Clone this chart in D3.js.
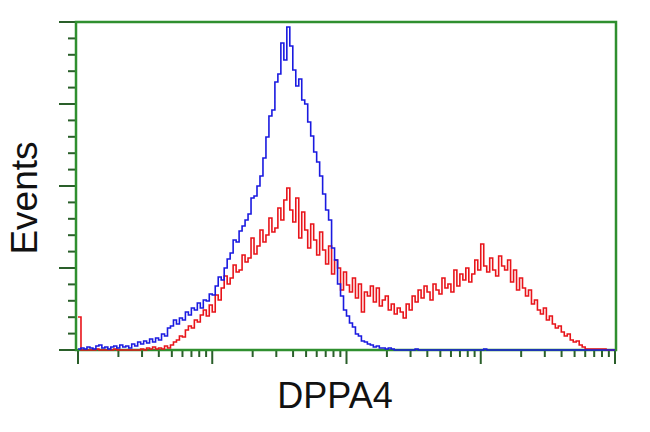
<!DOCTYPE html>
<html><head><meta charset="utf-8">
<script src="https://cdn.jsdelivr.net/npm/d3@7"></script>
<style>html,body{margin:0;padding:0;background:#fff;}svg{display:block;}</style>
</head><body>
<script>
// ---- data ----
const xLabel = "DPPA4";
const yLabel = "Events";
const xDecades = [1, 10, 100, 1000, 10000];
const yMajorTicks = [0, 100, 200, 300, 400];
const binCount = 180;
// bin heights (pixel units, converted to the 0..400 count scale)
const blueCounts = [
1,2,1,3,2,1,4,5,2,3, 1,3,4,2,5,3,4,2,6,4,
8,6,9,7,11,8,12,10,16,14, 22,24,30,26,32,30,38,35,42,40,
47,42,50,49,56,55,64,73,70,82, 91,97,110,108,119,124,130,136,152,154,
164,174,192,213,234,240,268,276,307,290, 323,304,280,264,271,250,246,228,214,198,
188,174,156,140,130,102,90,66,54,40, 34,27,23,16,14,9,8,6,5,3,
4,2,2,1,2,1,0,0,0,0, 0,0,0,1,0,0,0,0,0,0,
0,0,0,0,0,0,0,0,0,0, 0,0,0,0,0,0,1,0,0,0,
0,0,0,0,0,0,0,0,0,0, 0,0,0,0,0,0,0,0,0,0,
0,0,0,0,0,0,0,0,0,0, 0,0,0,0,0,0,0,0,0,0
];
const redCounts = [
33,0,0,0,0,0,1,0,0,0, 0,0,1,0,0,0,0,0,0,0,
0,1,0,2,1,3,1,2,1,4, 2,5,8,10,14,13,20,24,22,30,
28,35,40,34,45,38,55,50,62,74, 66,72,85,78,80,95,88,92,112,96,
104,120,108,115,132,118,122,142,130,150, 162,140,128,152,112,138,120,102,126,110,
95,118,100,86,104,76,90,82,60,78, 65,58,72,52,66,38,58,54,64,48,
62,44,50,54,40,46,36,42,38,32, 46,40,54,48,60,52,64,58,50,66,
60,56,72,62,66,58,80,64,76,70, 82,68,76,90,80,106,84,78,92,80,
74,94,84,80,90,68,80,60,72,62, 54,60,46,50,40,36,42,30,34,26,
22,24,18,14,16,10,8,9,5,3, 1,1,1,1,1,1,1,0,0,0
];
const pxToCount = 400 / 328;

// ---- chart ----
const W = 650, H = 432;
const svg = d3.select("body").append("svg").attr("width", W).attr("height", H);

const x = d3.scaleLog().domain([1, 10000]).range([78, 615]);
const y = d3.scaleLinear().domain([0, 400]).range([350, 22]);

const axisColor = "#2f8f2f";
const tickColor = "#2a5f2a";

// minor/major y ticks
const yMinor = d3.range(0, 401, 20).filter(v => v % 100 !== 0);
svg.append("g").selectAll("line").data(yMinor).join("line")
  .attr("x1", 68).attr("x2", 76).attr("y1", d => y(d)).attr("y2", d => y(d))
  .attr("stroke", tickColor).attr("stroke-width", 2);
svg.append("g").selectAll("line").data(yMajorTicks).join("line")
  .attr("x1", 59).attr("x2", 76).attr("y1", d => y(d)).attr("y2", d => y(d))
  .attr("stroke", tickColor).attr("stroke-width", 2);

// x ticks
const xMinor = [];
xDecades.slice(0, -1).forEach(d => { for (let k = 2; k <= 9; k++) xMinor.push(d * k); });
svg.append("g").selectAll("line").data(xMinor).join("line")
  .attr("x1", d => x(d)).attr("x2", d => x(d)).attr("y1", 350).attr("y2", 357)
  .attr("stroke", tickColor).attr("stroke-width", 2);
svg.append("g").selectAll("line").data(xDecades).join("line")
  .attr("x1", d => x(d)).attr("x2", d => x(d)).attr("y1", 350).attr("y2", 364)
  .attr("stroke", tickColor).attr("stroke-width", 2);

// frame
svg.append("rect").attr("x", 76).attr("y", 22).attr("width", 540).attr("height", 328)
  .attr("fill", "none").attr("stroke", axisColor).attr("stroke-width", 2.5);

// histograms
const edges = d3.range(binCount + 1).map(i => Math.pow(10, 4 * i / binCount));
function stepPath(counts) {
  const pts = counts.map((c, i) => [x(edges[i]), y(c * pxToCount)]);
  pts.push([x(edges[binCount]), y(counts[binCount - 1] * pxToCount)]);
  return d3.line().curve(d3.curveStepAfter)(pts);
}
svg.append("path").attr("d", stepPath(redCounts))
  .attr("fill", "none").attr("stroke", "#e8141a").attr("stroke-width", 1.6);
svg.append("path").attr("d", stepPath(blueCounts))
  .attr("fill", "none").attr("stroke", "#1a1ae0").attr("stroke-width", 1.6);

// labels
svg.append("text").attr("x", 335).attr("y", 408).attr("text-anchor", "middle")
  .attr("font-family", "Liberation Sans, Arial, sans-serif").attr("font-size", 36)
  .attr("fill", "#111").text(xLabel);
svg.append("text").attr("transform", "translate(37,198) rotate(-90)").attr("text-anchor", "middle")
  .attr("font-family", "Liberation Sans, Arial, sans-serif").attr("font-size", 37)
  .attr("fill", "#111").text(yLabel);
</script>
</body></html>
